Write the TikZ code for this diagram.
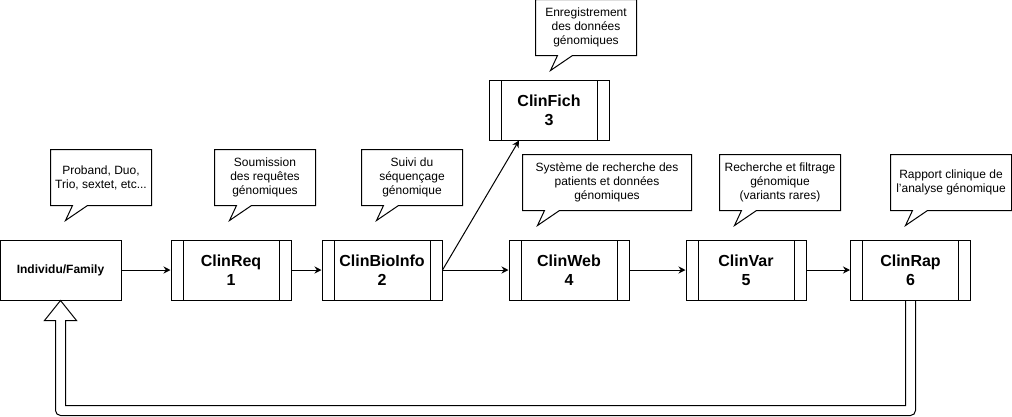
\documentclass[tikz,border=0pt]{standalone}
\usepackage{fontspec}
\setmainfont{Liberation Sans}
\usetikzlibrary{arrows.meta,calc}
\tikzset{
  every path/.style={line width=1pt},
  base/.style={draw, line width=1pt, inner sep=0pt, align=center},
  procbox/.style={base, minimum width=120pt, minimum height=60pt,
    font=\bfseries\fontsize{16}{19}\selectfont,
    path picture={
      \draw[line width=1pt] ([xshift=12pt]path picture bounding box.north west) -- ([xshift=12pt]path picture bounding box.south west);
      \draw[line width=1pt] ([xshift=-12pt]path picture bounding box.north east) -- ([xshift=-12pt]path picture bounding box.south east);
    }},
  startbox/.style={base, minimum width=121pt, minimum height=60pt, font=\bfseries\fontsize{12}{14}\selectfont},
  calloutbox/.style={inner sep=0pt, align=center, minimum height=55pt, font=\fontsize{12}{14}\selectfont},
  flow/.style={-{Stealth[length=7pt,width=7pt]}, line width=1pt},
}
\newcommand\drawcallout[1]{%
  \draw[line width=1pt] (#1.north west) -- (#1.north east) -- (#1.south east)
    -- ($(#1.south west)+(37,0)$) -- ($(#1.south west)+(15,15)$)
    -- ($(#1.south west)+(22,0)$) -- (#1.south west) -- cycle;}
\begin{document}
\begin{tikzpicture}[x=1pt,y=-1pt]
\useasboundingbox (0,0) rectangle (1012,416);
% process nodes
\node[startbox] (ind) at (60.5,270) {Individu/Family};
\node[procbox] (req) at (231,270) {ClinReq\\1};
\node[procbox] (bio) at (382,270) {ClinBioInfo\\2};
\node[procbox] (fich) at (549,110) {ClinFich\\3};
\node[procbox] (web) at (569,270) {ClinWeb\\4};
\node[procbox] (var) at (746,270) {ClinVar\\5};
\node[procbox] (rap) at (910.5,270) {ClinRap\\6};
% callouts
\node[calloutbox, minimum width=100pt] (c1) at (101,177.5) {Proband, Duo,\\Trio, sextet, etc...};
\node[calloutbox, minimum width=100pt] (c2) at (265,177.5) {Soumission\\des requêtes\\génomiques};
\node[calloutbox, minimum width=100pt] (c3) at (412,177.5) {Suivi du\\séquençage\\génomique};
\node[calloutbox, minimum width=100pt] (c4) at (586,27.5) {Enregistrement\\des données\\génomiques};
\node[calloutbox, minimum width=168pt] (c5) at (607,182.5) {Système de recherche des\\patients et données\\génomiques};
\node[calloutbox, minimum width=120pt] (c6) at (780,182.5) {Recherche et filtrage\\génomique\\(variants rares)};
\node[calloutbox, minimum width=120pt] (c7) at (951,182.5) {Rapport clinique de\\l'analyse génomique};
\drawcallout{c1}
\drawcallout{c2}
\drawcallout{c3}
\drawcallout{c4}
\drawcallout{c5}
\drawcallout{c6}
\drawcallout{c7}
% connectors
\draw[flow] (ind) -- (req);
\draw[flow] (req) -- (bio);
\draw[flow] (bio) -- (web);
\draw[flow] (bio.east) -- ($(fich.south)+(-30,0)$);
\draw[flow] (web) -- (var);
\draw[flow] (var) -- (rap);
% feedback hollow arrow
\draw[line width=1pt, line join=miter]
  ($(rap.south)+(5,0)$)
  [rounded corners=5pt] -- ($(rap.south)+(5,115)$)
  -- ($(ind.south)+(-5,115)$) [rounded corners=0pt]
  -- ($(ind.south)+(-5,20)$) -- ($(ind.south)+(-16,20)$)
  -- (ind.south) -- ($(ind.south)+(16,20)$) -- ($(ind.south)+(5,20)$)
  -- ($(ind.south)+(5,105)$) -- ($(rap.south)+(-5,105)$)
  -- ($(rap.south)+(-5,0)$);
\end{tikzpicture}
\end{document}
